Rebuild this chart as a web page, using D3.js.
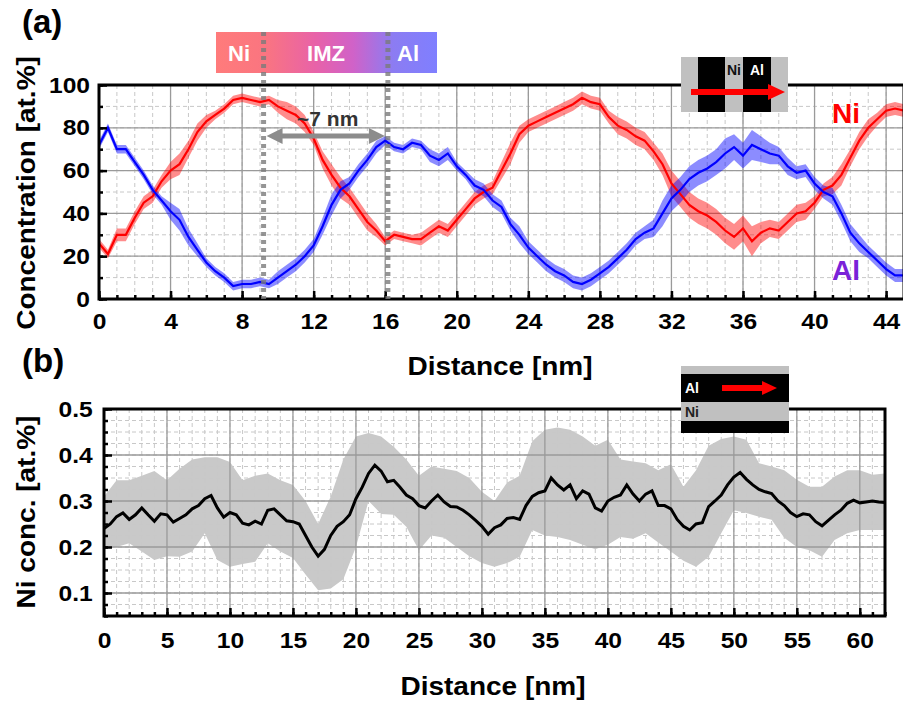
<!DOCTYPE html>
<html>
<head>
<meta charset="utf-8">
<title>Ni / Al concentration profiles</title>
<script src="https://cdn.jsdelivr.net/npm/d3@7"></script>
<style>
  body { margin: 0; background: #fff; }
  text { font-family: "Liberation Sans", Arial, sans-serif; font-weight: bold; }
</style>
</head>
<body>
<svg id="chart"></svg>
<script>
// ---- panel (a): concentration profiles across the multilayer ----
var distA = [0,0.5,1,1.5,2,2.5,3,3.5,4,4.5,5,5.5,6,6.5,7,7.5,8,8.5,9,9.5,10,10.5,11,11.5,12,12.5,13,13.5,14,14.5,
  15,15.5,16,16.5,17,17.5,18,18.5,19,19.5,20,20.5,21,21.5,22,22.5,23,23.5,24,24.5,25,25.5,26,26.5,27,27.5,28,28.5,29,29.5,
  30,30.5,31,31.5,32,32.5,33,33.5,34,34.5,35,35.5,36,36.5,37,37.5,38,38.5,39,39.5,40,40.5,41,41.5,42,42.5,43,43.5,44,44.5,45];
var niA = [26,21,30,30,38,45,48,55,60,63,70,78,83,86,89,93,94,93,92,93,90,88,86,82,75,65,58,52,48,42,
  36,32,27,30,29,28,28,31,34,32,37,42,47,50,52,60,68,77,81,83,85,87,89,91,94,92,91,85,81,79,
  76,74,69,63,54,49,44,41,39,36,32,29,33,27,31,33,32,36,40,41,45,51,53,58,66,74,80,84,88,89,88];
var alA = [72,80,70,70,64,58,51,46,41,37,29,23,17,13,10,6,7,7,8,7,10,13,16,20,25,34,44,51,54,60,
  65,71,74,71,70,73,72,67,65,68,62,58,53,51,46,43,35,30,24,20,16,13,11,8,7,9,12,15,19,23,
  28,31,33,40,47,51,56,59,61,64,68,71,67,72,70,68,67,62,59,60,54,50,48,40,31,26,22,18,14,11,11];
var niErrA = [2,2,3,3,3,3,3,3,4,5,4,4,3,2,2,2,2,2,2,2,3,4,4,4,3,4,5,5,4,4,
  4,3,2,2,2,2,3,3,3,3,3,3,3,3,3,4,5,4,3,3,3,3,3,3,3,3,3,3,4,4,
  4,4,4,5,6,6,6,6,6,6,6,6,6,7,5,4,4,4,4,4,3,3,4,5,4,4,4,3,3,3,3];
var alErrA = [2,2,2,2,2,2,2,2,4,5,4,3,2,2,2,2,2,2,2,2,3,3,3,3,3,4,5,4,3,3,
  3,3,2,2,2,2,2,3,3,3,2,2,3,3,3,3,3,4,3,3,3,3,3,3,3,3,3,3,3,3,
  3,3,4,6,6,6,6,6,6,6,7,6,6,7,6,5,4,4,3,3,3,3,4,4,4,4,3,3,3,3,3];
var xTicksA = [0,4,8,12,16,20,24,28,32,36,40,44];
var yTicksA = [0,20,40,60,80,100];
var imzBounds = [9.2, 16.15];   // dotted lines marking the intermixed zone

// ---- panel (b): Ni concentration inside the Al layer ----
var distB = [0,0.5,1,1.5,2,2.5,3,3.5,4,4.5,5,5.5,6,6.5,7,7.5,8,8.5,9,9.5,10,10.5,11,11.5,12,12.5,13,13.5,14,14.5,
  15,15.5,16,16.5,17,17.5,18,18.5,19,19.5,20,20.5,21,21.5,22,22.5,23,23.5,24,24.5,25,25.5,26,26.5,27,27.5,28,28.5,29,29.5,
  30,30.5,31,31.5,32,32.5,33,33.5,34,34.5,35,35.5,36,36.5,37,37.5,38,38.5,39,39.5,40,40.5,41,41.5,42,42.5,43,43.5,44,44.5,
  45,45.5,46,46.5,47,47.5,48,48.5,49,49.5,50,50.5,51,51.5,52,52.5,53,53.5,54,54.5,55,55.5,56,56.5,57,57.5,58,58.5,59,59.5,
  60,60.5,61,61.5,62];
var niConc = [0.240,0.250,0.266,0.274,0.260,0.270,0.285,0.270,0.256,0.272,0.270,0.254,0.262,0.270,0.283,0.290,0.305,0.312,0.285,0.265,
  0.275,0.270,0.252,0.248,0.256,0.250,0.280,0.283,0.270,0.257,0.255,0.250,0.225,0.200,0.180,0.195,0.225,0.245,0.255,0.270,
  0.305,0.330,0.360,0.378,0.365,0.342,0.345,0.330,0.313,0.305,0.290,0.285,0.300,0.313,0.298,0.288,0.287,0.280,0.270,0.258,
  0.245,0.228,0.242,0.248,0.262,0.264,0.260,0.290,0.310,0.318,0.322,0.350,0.335,0.324,0.335,0.305,0.322,0.315,0.285,0.278,
  0.300,0.308,0.313,0.335,0.315,0.300,0.315,0.322,0.290,0.290,0.283,0.260,0.245,0.237,0.250,0.253,0.288,0.300,0.313,0.335,
  0.352,0.362,0.347,0.335,0.325,0.320,0.316,0.300,0.290,0.275,0.266,0.272,0.270,0.255,0.246,0.258,0.270,0.280,0.295,0.302,
  0.296,0.298,0.300,0.298,0.297];
var bandDist = [0,1,2,3,4,5,6,7,8,9,10,11,12,13,14,15,16,17,18,19,20,21,22,23,24,25,26,27,28,29,30,
  31,32,33,34,35,36,37,38,39,40,41,42,43,44,45,46,47,48,49,50,51,52,53,54,55,56,57,58,59,60,61,62];
var bandHi = [0.310,0.345,0.345,0.355,0.365,0.345,0.370,0.390,0.395,0.395,0.385,0.345,0.355,0.360,0.345,0.335,0.300,0.250,0.310,0.390,0.440,
  0.448,0.440,0.418,0.390,0.355,0.375,0.370,0.365,0.350,0.320,0.300,0.340,0.355,0.430,0.455,0.460,0.455,0.440,0.420,0.433,
  0.390,0.386,0.382,0.367,0.380,0.331,0.367,0.420,0.435,0.440,0.433,0.382,0.375,0.367,0.346,0.331,0.331,0.353,0.367,0.367,0.357,0.360];
var bandLo = [0.197,0.200,0.208,0.190,0.172,0.180,0.179,0.190,0.230,0.172,0.157,0.163,0.168,0.208,0.190,0.176,0.140,0.106,0.110,0.130,0.200,
  0.300,0.272,0.270,0.244,0.193,0.225,0.220,0.200,0.180,0.165,0.157,0.165,0.179,0.237,0.225,0.222,0.215,0.205,0.195,0.205,
  0.222,0.218,0.230,0.210,0.190,0.170,0.157,0.179,0.230,0.280,0.274,0.266,0.259,0.220,0.200,0.193,0.179,0.215,0.230,0.237,0.237,0.237];
var xTicksB = [0,5,10,15,20,25,30,35,40,45,50,55,60];
var yTicksB = [0.1,0.2,0.3,0.4,0.5];

var width = 903, height = 702;
var svg = d3.select("#chart").attr("width", width).attr("height", height);

var xA = d3.scaleLinear().domain([0, 45]).range([99, 904]);
var yA = d3.scaleLinear().domain([0, 100]).range([299, 85]);
var xB = d3.scaleLinear().domain([0, 62]).range([104, 885]);
var yB = d3.scaleLinear().domain([0.05, 0.5]).range([616, 409]);

var stretch = "scale(1.12,1)";

function grid(g, x, y, xMinor, yMinor, xMajor, yMajor) {
  var x0 = x.range()[0], x1 = x.range()[1], y0 = y.range()[0], y1 = y.range()[1];
  g.selectAll(".vmin").data(xMinor).enter().append("line")
    .attr("x1", d => x(d)).attr("x2", d => x(d)).attr("y1", y0).attr("y2", y1)
    .attr("stroke", "#c8c8c8").attr("stroke-dasharray", "4,3");
  g.selectAll(".hmin").data(yMinor).enter().append("line")
    .attr("x1", x0).attr("x2", x1).attr("y1", d => y(d)).attr("y2", d => y(d))
    .attr("stroke", "#c8c8c8").attr("stroke-dasharray", "4,3");
  g.selectAll(".vmaj").data(xMajor).enter().append("line")
    .attr("x1", d => x(d)).attr("x2", d => x(d)).attr("y1", y0).attr("y2", y1)
    .attr("stroke", "#9a9a9a").attr("stroke-width", 1.3);
  g.selectAll(".hmaj").data(yMajor).enter().append("line")
    .attr("x1", x0).attr("x2", x1).attr("y1", d => y(d)).attr("y2", d => y(d))
    .attr("stroke", "#9a9a9a").attr("stroke-width", 1.3);
}

function axes(x, y, xTicks, yTicks, xMinor, yMinor, yFmt, xPad, yPad) {
  var bottom = y.range()[0], left = x.range()[0];
  // minor ticks
  svg.append("g").attr("transform", "translate(0," + bottom + ")")
    .call(d3.axisBottom(x).tickValues(xMinor).tickSizeInner(-4).tickSizeOuter(0).tickFormat(""))
    .call(g => g.select(".domain").remove())
    .selectAll("line").attr("stroke", "#000").attr("stroke-width", 2.5);
  svg.append("g").attr("transform", "translate(" + left + ",0)")
    .call(d3.axisLeft(y).tickValues(yMinor).tickSizeInner(-4).tickSizeOuter(0).tickFormat(""))
    .call(g => g.select(".domain").remove())
    .selectAll("line").attr("stroke", "#000").attr("stroke-width", 2.5);
  // major ticks + labels
  var gx = svg.append("g").attr("transform", "translate(0," + bottom + ")")
    .call(d3.axisBottom(x).tickValues(xTicks).tickSizeInner(-8).tickSizeOuter(0).tickPadding(xPad))
    .call(g => g.select(".domain").remove());
  var gy = svg.append("g").attr("transform", "translate(" + left + ",0)")
    .call(d3.axisLeft(y).tickValues(yTicks).tickSizeInner(-8).tickSizeOuter(0).tickPadding(yPad).tickFormat(yFmt))
    .call(g => g.select(".domain").remove());
  [gx, gy].forEach(function (g) {
    g.selectAll("line").attr("stroke", "#000").attr("stroke-width", 2.5);
    g.selectAll("text").attr("fill", "#000").attr("font-size", 22)
      .attr("font-family", "Liberation Sans, Arial, sans-serif").attr("font-weight", "bold")
      .attr("transform", stretch);
  });
  // frame
  svg.append("rect").attr("x", left).attr("y", y.range()[1])
    .attr("width", x.range()[1] - left).attr("height", bottom - y.range()[1])
    .attr("fill", "none").attr("stroke", "#000").attr("stroke-width", 3);
}

function label(x, y, txt, size, rot, fill) {
  svg.append("text")
    .attr("transform", "translate(" + x + "," + y + ")" + (rot ? " rotate(-90)" : "") + " " + stretch)
    .attr("text-anchor", "middle").attr("font-size", size).attr("fill", fill || "#000")
    .text(txt);
}

// ================= panel (a) =================
var gA = svg.append("g");
grid(gA, xA, yA, xA.ticks(45), yA.ticks(10), xTicksA, yTicksA);

var rowsA = distA.map((d, i) => ({ x: d, ni: niA[i], al: alA[i], en: niErrA[i], ea: alErrA[i] }));
var areaNi = d3.area().x(d => xA(d.x)).y0(d => yA(d.ni - d.en)).y1(d => yA(d.ni + d.en));
var areaAl = d3.area().x(d => xA(d.x)).y0(d => yA(d.al - d.ea)).y1(d => yA(d.al + d.ea));
gA.append("path").datum(rowsA).attr("d", areaNi).attr("fill", "rgba(255,0,0,0.45)");
gA.append("path").datum(rowsA).attr("d", areaAl).attr("fill", "rgba(0,0,255,0.45)");
gA.append("path").datum(rowsA).attr("d", d3.line().x(d => xA(d.x)).y(d => yA(d.ni)))
  .attr("fill", "none").attr("stroke", "#ff0000").attr("stroke-width", 2.2);
gA.append("path").datum(rowsA).attr("d", d3.line().x(d => xA(d.x)).y(d => yA(d.al)))
  .attr("fill", "none").attr("stroke", "#0000ff").attr("stroke-width", 2.2);

axes(xA, yA, xTicksA, yTicksA, xA.ticks(45), yA.ticks(10), d3.format("d"), 14, 8);

// gradient bar Ni | IMZ | Al
var defs = svg.append("defs");
var grad = defs.append("linearGradient").attr("id", "imz");
[[0, "#ff7b7b"], [0.22, "#fa7580"], [0.45, "#e862a8"], [0.62, "#d062c8"], [0.8, "#8c7cf2"], [1, "#7f7fff"]]
  .forEach(s => grad.append("stop").attr("offset", s[0]).attr("stop-color", s[1]));
svg.append("rect").attr("x", 216).attr("y", 32).attr("width", 221).attr("height", 41).attr("fill", "url(#imz)");
svg.append("text").attr("x", 239).attr("y", 61).attr("text-anchor", "middle").attr("font-size", 22).attr("fill", "#fff").text("Ni");
svg.append("text").attr("x", 326).attr("y", 61).attr("text-anchor", "middle").attr("font-size", 22).attr("fill", "#fff").text("IMZ");
svg.append("text").attr("x", 408).attr("y", 61).attr("text-anchor", "middle").attr("font-size", 22).attr("fill", "#fff").text("Al");

// dotted boundaries of the intermixed zone
svg.selectAll(".imzline").data(imzBounds).enter().append("line")
  .attr("x1", d => xA(d)).attr("x2", d => xA(d)).attr("y1", 32).attr("y2", 299)
  .attr("stroke", "#7a7a7a").attr("stroke-opacity", 0.8).attr("stroke-width", 5).attr("stroke-dasharray", "4,4");

// double arrow "~7 nm"
var ax0 = xA(imzBounds[0]) + 3, ax1 = xA(imzBounds[1]) - 3, ay = 136;
svg.append("line").attr("x1", ax0 + 14).attr("x2", ax1 - 14).attr("y1", ay).attr("y2", ay)
  .attr("stroke", "#8c8c8c").attr("stroke-width", 5);
svg.append("path").attr("d", "M" + ax0 + "," + ay + " l16,-8 v16 z").attr("fill", "#8c8c8c");
svg.append("path").attr("d", "M" + ax1 + "," + ay + " l-16,-8 v16 z").attr("fill", "#8c8c8c");
svg.append("text").attr("x", (ax0 + ax1) / 2 + 2).attr("y", 126).attr("text-anchor", "middle")
  .attr("font-size", 21).attr("fill", "#333").text("~7 nm");

// inset sketch (a)
var ia = svg.append("g");
ia.append("rect").attr("x", 681).attr("y", 57).attr("width", 107).attr("height", 55).attr("fill", "#c0c0c0");
ia.append("rect").attr("x", 698).attr("y", 57).attr("width", 27).attr("height", 55).attr("fill", "#000");
ia.append("rect").attr("x", 743).attr("y", 57).attr("width", 28).attr("height", 55).attr("fill", "#000");
ia.append("text").attr("x", 734).attr("y", 75).attr("text-anchor", "middle").attr("font-size", 14).attr("fill", "#111").text("Ni");
ia.append("text").attr("x", 757).attr("y", 75).attr("text-anchor", "middle").attr("font-size", 14).attr("fill", "#fff").text("Al");
ia.append("rect").attr("x", 691).attr("y", 89).attr("width", 79).attr("height", 6).attr("fill", "#ff0000");
ia.append("path").attr("d", "M768,84 L785,92 L768,100 Z").attr("fill", "#ff0000");

svg.append("text").attr("x", 846).attr("y", 123).attr("text-anchor", "middle").attr("font-size", 28).attr("fill", "#ff0000").text("Ni");
svg.append("text").attr("x", 846).attr("y", 280).attr("text-anchor", "middle").attr("font-size", 28).attr("fill", "#7a22d8").text("Al");

label(500, 375, "Distance [nm]", 25, false);
label(35, 193, "Concentration [at.%]", 25, true);
svg.append("text").attr("x", 22).attr("y", 33).attr("font-size", 33).text("(a)");

// ================= panel (b) =================
var gB = svg.append("g");
var bandRows = bandDist.map((d, i) => ({ x: d, hi: bandHi[i], lo: bandLo[i] }));
gB.append("path").datum(bandRows)
  .attr("d", d3.area().x(d => xB(d.x)).y0(d => yB(d.lo)).y1(d => yB(d.hi)))
  .attr("fill", "#c9c9c9");
grid(gB, xB, yB, xB.ticks(62), d3.range(0.05, 0.5001, 0.025), xTicksB, yTicksB);
gB.append("path").datum(distB.map((d, i) => [d, niConc[i]]))
  .attr("d", d3.line().x(d => xB(d[0])).y(d => yB(d[1])))
  .attr("fill", "none").attr("stroke", "#000").attr("stroke-width", 3);

axes(xB, yB, xTicksB, yTicksB, xB.ticks(62), d3.range(0.05, 0.5001, 0.025), d3.format(".1f"), 16, 10);

// inset sketch (b)
var ib = svg.append("g");
ib.append("rect").attr("x", 681).attr("y", 366).attr("width", 108).attr("height", 8).attr("fill", "#c0c0c0");
ib.append("rect").attr("x", 681).attr("y", 374).attr("width", 108).attr("height", 28).attr("fill", "#000");
ib.append("rect").attr("x", 681).attr("y", 402).attr("width", 108).attr("height", 19).attr("fill", "#c0c0c0");
ib.append("rect").attr("x", 681).attr("y", 421).attr("width", 108).attr("height", 12).attr("fill", "#000");
ib.append("text").attr("x", 685).attr("y", 393).attr("font-size", 14).attr("fill", "#fff").text("Al");
ib.append("text").attr("x", 685).attr("y", 417).attr("font-size", 14).attr("fill", "#222").text("Ni");
ib.append("rect").attr("x", 722).attr("y", 385).attr("width", 42).attr("height", 6).attr("fill", "#ff0000");
ib.append("path").attr("d", "M762,381 L777,388 L762,395 Z").attr("fill", "#ff0000");

label(493, 695, "Distance [nm]", 25, false);
label(35, 512, "Ni conc. [at.%]", 25, true);
svg.append("text").attr("x", 22).attr("y", 372).attr("font-size", 33).text("(b)");
</script>
</body>
</html>
